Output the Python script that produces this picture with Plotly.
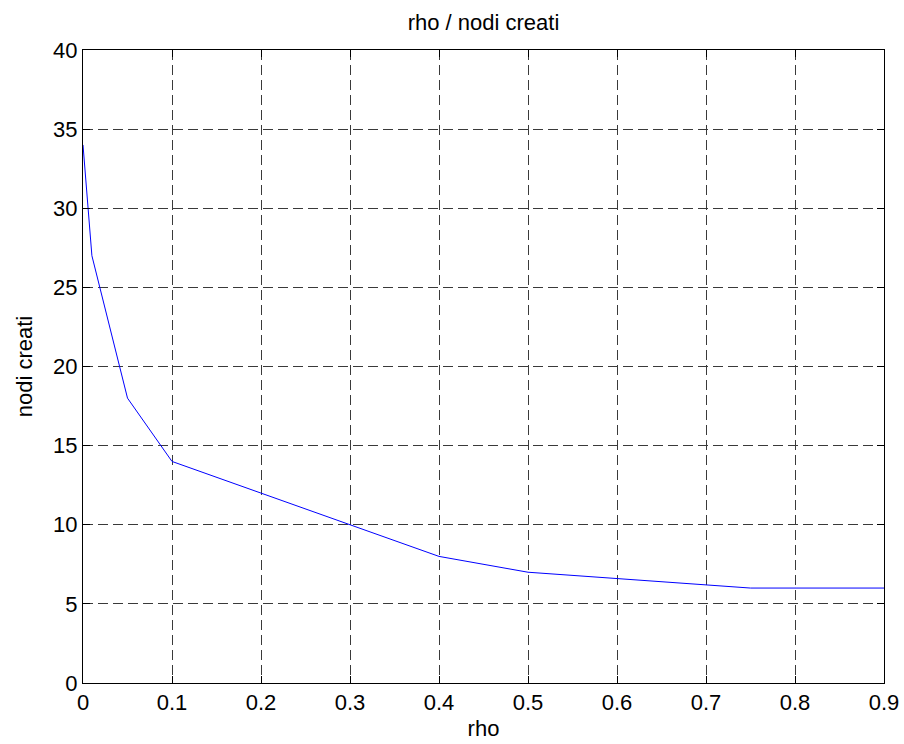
import plotly.graph_objects as go

rho = [0, 0.01, 0.05, 0.1, 0.2, 0.3, 0.4, 0.5, 0.75, 0.8, 0.9]
nodi_creati = [34, 27, 18, 14, 12, 10, 8, 7, 6, 6, 6]

x_ticks = [0, 0.1, 0.2, 0.3, 0.4, 0.5, 0.6, 0.7, 0.8, 0.9]
y_ticks = [0, 5, 10, 15, 20, 25, 30, 35, 40]

font_family = "Liberation Sans, Arial, sans-serif"
fs = 22

fig = go.Figure()
fig.add_trace(go.Scatter(x=rho, y=nodi_creati, mode="lines",
                         line=dict(color="#0000ff", width=1), showlegend=False))

axis_common = dict(
    showline=True, linecolor="black", linewidth=1, mirror="allticks",
    ticks="inside", ticklen=7, tickcolor="black", tickwidth=1,
    showgrid=True, gridcolor="#3a3a3a", gridwidth=1, griddash="10px,5px",
    zeroline=False, automargin=False,
    tickfont=dict(family=font_family, size=fs, color="black"),
)

fig.update_xaxes(range=[0, 0.9], tickvals=x_ticks, ticktext=[f"{v:g}" for v in x_ticks],
                 title=dict(text="rho", font=dict(family=font_family, size=fs, color="black"), standoff=6),
                 **axis_common)
fig.update_yaxes(range=[0, 40], tickvals=y_ticks, ticktext=[str(v) for v in y_ticks],
                 title=dict(text="nodi creati", font=dict(family=font_family, size=fs, color="black"), standoff=14),
                 **axis_common)

fig.update_layout(
    width=904, height=744,
    margin=dict(l=83, r=20, t=50, b=61),
    paper_bgcolor="white", plot_bgcolor="white",
    title=dict(text="rho / nodi creati", x=0.5, xanchor="center", xref="paper",
               y=1 - 30 / 744, yanchor="bottom",
               font=dict(family=font_family, size=fs, color="black")),
)

fig.write_html("out.html")
